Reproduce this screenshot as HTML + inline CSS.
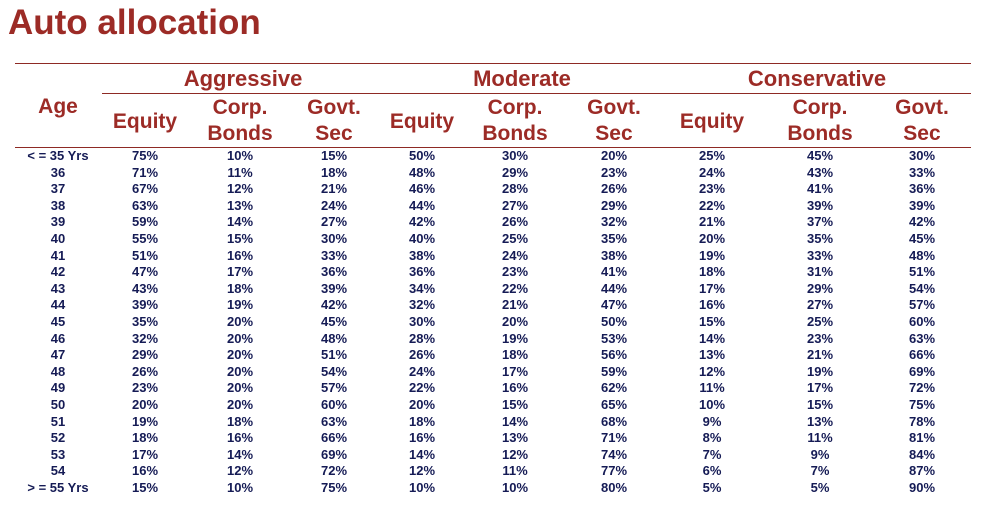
<!DOCTYPE html>
<html><head><meta charset="utf-8"><style>
body{margin:0;width:986px;height:509px;background:#fff;position:relative;overflow:hidden;font-family:"Liberation Sans",sans-serif}
.t{position:absolute;white-space:nowrap;text-align:center;transform:translateX(-50%)}
.h{color:#9c2b26;font-size:21px;line-height:26px;font-weight:bold}
.g{color:#9c2b26;font-size:22px;font-weight:bold}
.d{color:#151b55;font-size:13px;font-weight:bold;line-height:16px}
.ln{position:absolute;height:1px;background:#8e2a24}
</style></head><body>
<div style="position:absolute;left:8px;top:3px;font-size:35px;font-weight:bold;color:#9c2b26;line-height:40px">Auto allocation</div>
<div class="ln" style="left:15px;top:63px;width:956px"></div>
<div class="ln" style="left:102px;top:93px;width:869px"></div>
<div class="ln" style="left:15px;top:147px;width:956px"></div>
<div class="t g" style="left:243px;top:66px">Aggressive</div>
<div class="t g" style="left:522px;top:66px">Moderate</div>
<div class="t g" style="left:817px;top:66px">Conservative</div>
<div class="t h" style="left:58px;top:94px">Age</div>
<div id="tbl"></div>
<script>
const ages=["< = 35 Yrs","36","37","38","39","40","41","42","43","44","45","46","47","48","49","50","51","52","53","54","> = 55 Yrs"];
const aggEq=[75,71,67,63,59,55,51,47,43,39,35,32,29,26,23,20,19,18,17,16,15];
const aggCb=[10,11,12,13,14,15,16,17,18,19,20,20,20,20,20,20,18,16,14,12,10];
const aggGs=[15,18,21,24,27,30,33,36,39,42,45,48,51,54,57,60,63,66,69,72,75];
const modEq=[50,48,46,44,42,40,38,36,34,32,30,28,26,24,22,20,18,16,14,12,10];
const modCb=[30,29,28,27,26,25,24,23,22,21,20,19,18,17,16,15,14,13,12,11,10];
const modGs=[20,23,26,29,32,35,38,41,44,47,50,53,56,59,62,65,68,71,74,77,80];
const conEq=[25,24,23,22,21,20,19,18,17,16,15,14,13,12,11,10,9,8,7,6,5];
const conCb=[45,43,41,39,37,35,33,31,29,27,25,23,21,19,17,15,13,11,9,7,5];
const conGs=[30,33,36,39,42,45,48,51,54,57,60,63,66,69,72,75,78,81,84,87,90];
const series=[aggEq,aggCb,aggGs,modEq,modCb,modGs,conEq,conCb,conGs];
const colX=[145,240,334,422,515,614,712,820,922];
const sub=[["Equity"],["Corp.","Bonds"],["Govt.","Sec"]];
const subNames=["equity","corp-bonds","govt-sec"];
const tbl=document.getElementById('tbl');
colX.forEach((x,i)=>{
  const s=sub[i%3];
  const el=document.createElement('div');
  el.className='t h';
  
  
  el.style.left=x+'px';
  el.style.top=(s.length===1?109:95)+'px';
  el.innerHTML=s.join('<br>');
  tbl.appendChild(el);
});
const y0=148, pitch=16.6;
ages.forEach((a,r)=>{
  const el=document.createElement('div');
  el.className='t d';
  
  
  el.style.left='58px';el.style.top=(y0+r*pitch)+'px';
  el.textContent=a;
  tbl.appendChild(el);
  series.forEach((arr,c)=>{
    const e=document.createElement('div');
    e.className='t d';
    
    
    e.style.left=colX[c]+'px';e.style.top=(y0+r*pitch)+'px';
    e.textContent=arr[r]+'%';
    tbl.appendChild(e);
  });
});
</script>
</body></html>
